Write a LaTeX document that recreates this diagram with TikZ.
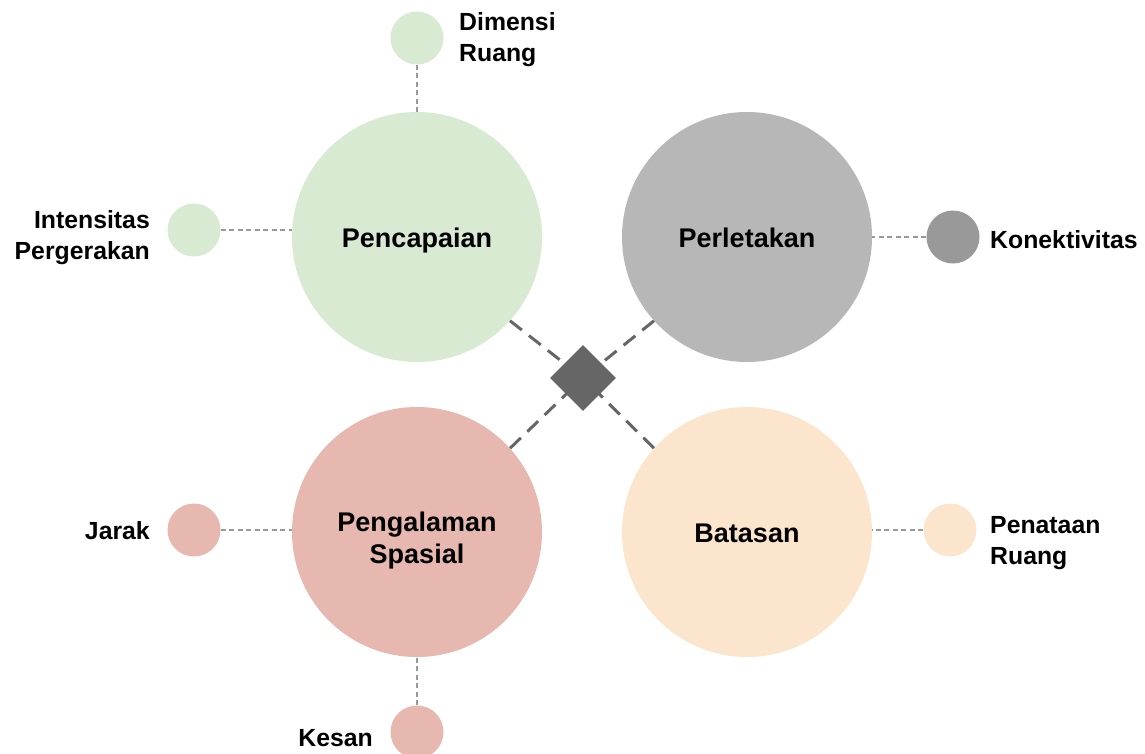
\documentclass[tikz,border=0pt]{standalone}
\usepackage{fontspec}
\setmainfont{Liberation Sans}
\usepackage{tikz}
\usetikzlibrary{positioning, calc, shapes.geometric}

\definecolor{hijau}{HTML}{D9EAD3}
\definecolor{abu}{HTML}{B7B7B7}
\definecolor{abutua}{HTML}{999999}
\definecolor{merah}{HTML}{E6B8AF}
\definecolor{krem}{HTML}{FCE5CD}
\definecolor{gelap}{HTML}{666666}

\begin{document}
\begin{tikzpicture}[x=1pt, y=-1pt,
    bigcirc/.style={circle, minimum size=250pt, inner sep=0pt},
    bigtext/.style={font=\bfseries\fontsize{27}{32}\selectfont, align=center, inner sep=0pt},
    smallcirc/.style={circle, minimum size=53pt, inner sep=0pt},
    lbl/.style={font=\bfseries\fontsize{24.8}{31}\selectfont, inner sep=0pt},
    link/.style={abutua, line width=1.5pt, dash pattern=on 5pt off 3.5pt},
    hub/.style={gelap, line width=3pt, dash pattern=on 15pt off 9pt}]
    \useasboundingbox (0,0) rectangle (1145,753);

    % Main circles
    \node[bigcirc, fill=hijau] (pencapaian) at (417,237) {};
    \node[bigcirc, fill=abu] (perletakan) at (747,237) {};
    \node[bigcirc, fill=merah] (pengalaman) at (417,532) {};
    \node[bigcirc, fill=krem] (batasan) at (747,532) {};

    % Circle titles
    \node[bigtext, anchor=base] (tpencapaian) at ($(pencapaian.center)+(0,10.5)$) {Pencapaian};
    \node[bigtext, anchor=base] (tperletakan) at ($(perletakan.center)+(0,10.5)$) {Perletakan};
    \node[bigtext, yshift=-9pt] (tpengalaman) at (pengalaman.center) {Pengalaman\\Spasial};
    \node[bigtext, anchor=base] (tbatasan) at ($(batasan.center)+(0,10.5)$) {Batasan};

    % Centre
    \coordinate (pusat) at (583,378);
    \draw[hub] (pencapaian.-42) -- (pusat);
    \draw[hub] (perletakan.-138) -- (pusat);
    \draw[hub] (pengalaman.42) -- (pusat);
    \draw[hub] (batasan.138) -- (pusat);
    \node[diamond, fill=gelap, minimum width=66pt, minimum height=66pt, inner sep=0pt] (inti) at (pusat) {};

    % Small circles
    \node[smallcirc, fill=hijau] (dimensi) at (417,38) {};
    \node[smallcirc, fill=hijau] (intensitas) at (194,230) {};
    \node[smallcirc, fill=abutua] (konektivitas) at (953,237) {};
    \node[smallcirc, fill=merah] (jarak) at (194,530) {};
    \node[smallcirc, fill=merah] (kesan) at (417,732) {};
    \node[smallcirc, fill=krem] (penataan) at (950,530) {};

    % Links
    \draw[link] (dimensi.south) -- (pencapaian.north);
    \draw[link] (intensitas.east) -- (intensitas.east -| pencapaian.west);
    \draw[link] (konektivitas.west) -- (konektivitas.west -| perletakan.east);
    \draw[link] (jarak.east) -- (jarak.east -| pengalaman.west);
    \draw[link] (kesan.north) -- (pengalaman.south);
    \draw[link] (penataan.west) -- (penataan.west -| batasan.east);

    % Labels
    \node[lbl, anchor=west, align=left] (tdimensi) at (459,40) {Dimensi\\Ruang};
    \node[lbl, anchor=east, align=right] (tintensitas) at (150,238) {Intensitas\\Pergerakan};
    \node[lbl, anchor=west] (tkonektivitas) at (990,240) {Konektivitas};
    \node[lbl, anchor=east] (tjarak) at (150,531) {Jarak};
    \node[lbl, anchor=east] (tkesan) at (373,738) {Kesan};
    \node[lbl, anchor=west, align=left] (tpenataan) at (990,543) {Penataan\\Ruang};
\end{tikzpicture}
\end{document}
